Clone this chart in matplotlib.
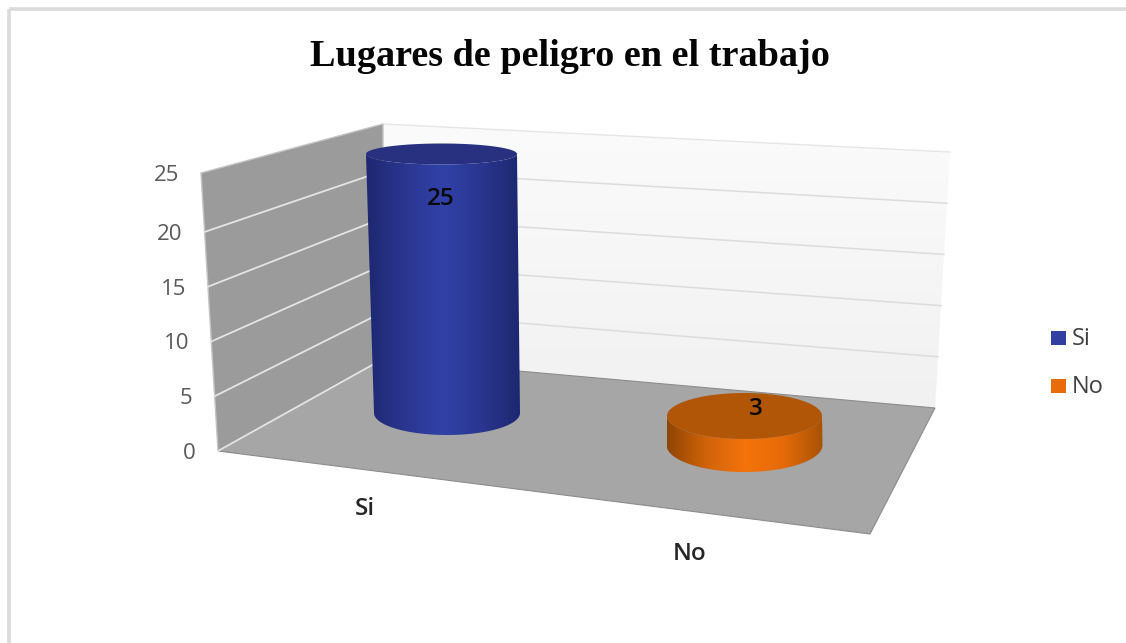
import numpy as np
import matplotlib
matplotlib.use("Agg")
import matplotlib.pyplot as plt
from matplotlib.patches import Polygon, Rectangle
from matplotlib.colors import LinearSegmentedColormap

title = "Lugares de peligro en el trabajo"
categories = ["Si", "No"]
values = [25, 3]
axis_ticks = [0, 5, 10, 15, 20, 25]
axis_max = 25

W, H = 1126, 643
fig = plt.figure(figsize=(W / 100, H / 100), dpi=100, facecolor="white")
ax = fig.add_axes([0, 0, 1, 1])
ax.set_xlim(0, W)
ax.set_ylim(H, 0)
ax.axis("off")

sans = ["Open Sans", "DejaVu Sans"]

# projected box corners, pixels
FL0, FL1 = (218, 451), (201, 173)   # front-left edge, value 0 and axis_max
BL0, BL1 = (383, 359), (383, 124)   # back-left edge
BR0, BR1 = (935, 408), (950, 152)   # back-right edge
FR0 = (870, 534)
FRONT_INNER = 0.985                 # inner gridlines sit a little lower on the front edge


def along(p0, p1, v, k=1.0):
    t = v / axis_max * k
    return (p0[0] + (p1[0] - p0[0]) * t, p0[1] + (p1[1] - p0[1]) * t)


# outer frame
ax.plot([9, 9], [H, 9], color="#dcdcdc", lw=2.6, solid_capstyle="butt")
ax.plot([9, W], [9, 9], color="#dcdcdc", lw=2.6, solid_capstyle="butt")

# back wall with a soft vertical gradient
wall_cmap = LinearSegmentedColormap.from_list("wall", ["#fbfbfb", "#f1f1f1"])
wall_im = ax.imshow(np.linspace(0, 1, 128)[:, None], cmap=wall_cmap, aspect="auto",
                    extent=(BL0[0], BR1[0], BR0[1], BL1[1]), zorder=1, interpolation="bilinear")
wall_clip = Polygon([BL0, BL1, BR1, BR0], closed=True, transform=ax.transData, fc="none", ec="none")
ax.add_patch(wall_clip)
wall_im.set_clip_path(wall_clip)
ax.plot([BL1[0], BR1[0]], [BL1[1], BR1[1]], color="#e6e6e6", lw=1, zorder=2)

# side wall and floor
ax.add_patch(Polygon([FL0, FL1, BL1, BL0], closed=True, fc="#9b9b9b", ec="#c4c4c4", lw=1, zorder=2))
ax.add_patch(Polygon([FL0, BL0, BR0, FR0], closed=True, fc="#a6a6a6", ec="#8c8c8c", lw=0.8, zorder=2))

# gridlines and axis labels
for v in axis_ticks:
    k = FRONT_INNER if 0 < v < axis_max else 1.0
    f, b, r = along(FL0, FL1, v, k), along(BL0, BL1, v), along(BR0, BR1, v)
    if 0 < v < axis_max:
        ax.plot([b[0], r[0]], [b[1], r[1]], color="#dcdcdc", lw=1.1, zorder=3)
    if v < axis_max:
        ax.plot([f[0], b[0]], [f[1], b[1]], color="#e4e4e4", lw=1.3, zorder=3)
    ax.text(f[0] - 22, f[1] + 2.5, str(v), ha="right", va="center",
            fontsize=16, color="#595959", family=sans, zorder=3)

# cylinder geometry, pixels: base centre and radii, per category
base_x = [447, 744.5]
base_y = [413, 445]
base_rx = [73, 78]
base_ry = [22, 27]
top_rx = [75.5, 77.5]
top_ry = [10.5, 23]
px_per_unit = [10.36, 9.67]
lean_per_unit = [-0.22, 0.0]

side_colors = [["#1d2870", "#2a3690", "#3141a8", "#2a3690", "#1d2870"],
               ["#8f4503", "#d0630a", "#f5730a", "#e56b08", "#a85206"]]
cap_colors = ["#27317f", "#b05606"]
legend_colors = ["#323fa0", "#e96c0a"]
label_offset = [(-1, 45), (11, -7)]
th = np.linspace(0, np.pi, 80)

for i, val in enumerate(values):
    ty = base_y[i] - val * px_per_unit[i]
    tx = base_x[i] + val * lean_per_unit[i]
    # front arc of the top, left to right, then front arc of the base back
    top_arc = np.c_[tx - top_rx[i] * np.cos(th), ty + top_ry[i] * np.sin(th)]
    base_arc = np.c_[base_x[i] + base_rx[i] * np.cos(th), base_y[i] + base_ry[i] * np.sin(th)]
    verts = np.r_[top_arc, base_arc, top_arc[:1]]
    x0, x1 = min(tx - top_rx[i], base_x[i] - base_rx[i]), max(tx + top_rx[i], base_x[i] + base_rx[i])
    y1 = base_y[i] + base_ry[i]
    cmap = LinearSegmentedColormap.from_list("c%d" % i, side_colors[i])
    im = ax.imshow(np.linspace(0, 1, 256)[None, :], cmap=cmap, aspect="auto",
                   extent=(x0, x1, y1 + 1, ty - 1), zorder=5, interpolation="bilinear")
    clip = Polygon(verts, closed=True, transform=ax.transData, fc="none", ec="none")
    ax.add_patch(clip)
    im.set_clip_path(clip)
    t2 = np.linspace(0, 2 * np.pi, 160)
    ax.fill(tx + top_rx[i] * np.cos(t2), ty + top_ry[i] * np.sin(t2), fc=cap_colors[i], ec="none", zorder=6)
    ax.text(tx + label_offset[i][0], ty + label_offset[i][1], str(val), ha="center", va="center",
            fontsize=17.5, fontweight="semibold", color="#0a0a0a", family=sans, zorder=7)
ax.set_xlim(0, W)
ax.set_ylim(H, 0)

# category labels
cat_x = [365, 690]
cat_y = [509, 554]
for c, x, y in zip(categories, cat_x, cat_y):
    ax.text(x, y, c, ha="center", va="center", fontsize=17.5, fontweight="semibold", color="#262626", family=sans)

# legend
leg_y = [338, 386]
for c, y, col in zip(categories, leg_y, legend_colors):
    ax.add_patch(Rectangle((1051, y - 7), 15, 14, fc=col, ec="none"))
    ax.text(1072, y + 1, c, ha="left", va="center", fontsize=17, color="#404040", family=sans)

# title
ax.text(570, 56, title, ha="center", va="center", fontsize=27.5, fontweight="bold",
        color="#050505", family="Liberation Serif")

fig.savefig("out.png", dpi=100, facecolor="white")
